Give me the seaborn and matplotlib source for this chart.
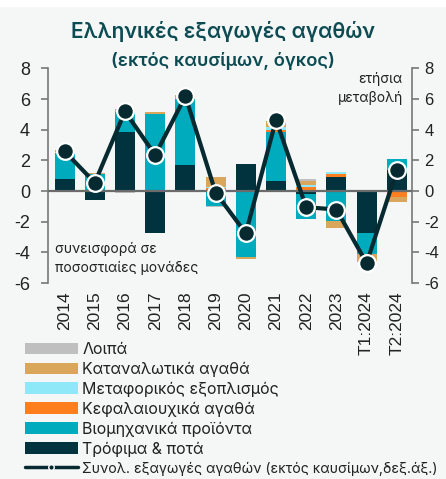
import numpy as np
import pandas as pd
import seaborn as sns
import matplotlib.pyplot as plt
from matplotlib.patches import Patch, Rectangle
from matplotlib.lines import Line2D

# data
periods = ['2014', '2015', '2016', '2017', '2018', '2019', '2020', '2021',
           '2022', '2023', 'T1:2024', 'T2:2024']
food = [0.80, -0.60, 3.83, -2.76, 1.72, 0.10, 1.78, 0.67, -0.20, 0.95, -2.74, 1.35]
industrial = [1.70, 1.10, 1.30, 5.00, 4.26, -0.98, -4.33, 3.20, -1.63, -1.93, -1.33, 0.72]
capital = [0.0, 0.0, 0.0, 0.0, 0.0, 0.08, 0.0, 0.13, 0.28, 0.18, 0.0, -0.40]
transport = [0.05, 0.0, 0.0, 0.0, -0.08, 0.10, 0.0, 0.20, 0.10, 0.12, 0.0, 0.0]
consumer = [0.12, 0.10, 0.20, 0.15, 0.30, 0.65, -0.10, 0.40, 0.25, -0.50, -0.58, -0.33]
others = [0.0, 0.0, -0.10, 0.0, 0.0, -0.05, 0.0, 0.0, 0.15, 0.0, 0.0, 0.0]
total = [2.6, 0.55, 5.2, 2.35, 6.2, -0.1, -2.75, 4.65, -1.05, -1.2, -4.7, 1.35]

series = [
    ('Τρόφιμα & ποτά', food, '#00333d'),
    ('Βιομηχανικά προϊόντα', industrial, '#00abbd'),
    ('Κεφαλαιουχικά αγαθά', capital, '#ff7f1f'),
    ('Μεταφορικός εξοπλισμός', transport, '#8ee8f7'),
    ('Καταναλωτικά αγαθά', consumer, '#d9a65b'),
    ('Λοιπά', others, '#bfbfbf'),
]
line_col = '#062a30'
bg = '#f5f7f7'
txt_font = ['Inter', 'DejaVu Sans']

sns.set_style('white')
plt.rcParams['font.family'] = ['Liberation Sans', 'DejaVu Sans']
plt.rcParams['axes.unicode_minus'] = False

fig = plt.figure(figsize=(4.46, 4.79), dpi=100, facecolor=bg)
fig.patches.append(Rectangle((0, 1 - 6 / 479), 1, 6 / 479, transform=fig.transFigure,
                             color='white', zorder=0))
ax = fig.add_axes([0.1076, 0.409, 0.816, 0.448])
ax.set_facecolor(bg)

pos_base = np.zeros(len(periods))
neg_base = np.zeros(len(periods))
for name, vals, col in series:
    v = np.array(vals)
    bottom = np.where(v >= 0, pos_base, neg_base)
    df = pd.DataFrame({'period': periods, 'value': v})
    sns.barplot(data=df, x='period', y='value', order=periods, color=col,
                width=0.66, bottom=bottom, saturation=1, edgecolor='none',
                linewidth=0, ax=ax, zorder=2)
    pos_base = pos_base + np.where(v >= 0, v, 0)
    neg_base = neg_base + np.where(v < 0, v, 0)

ax.axhline(0, color='#6b6b6b', lw=1.6, zorder=3)
ax.set_xlim(-0.55, 11.5)
ax.set_ylim(-6, 8)
ax.set_yticks(range(-6, 9, 2))
ax.set_xlabel('')
ax.set_ylabel('')
ax.tick_params(axis='x', rotation=90, labelsize=12.5, colors='#222222', length=0, pad=6)
ax.tick_params(axis='y', labelsize=13, colors='#222222', length=5, width=1.2,
               direction='out', color='#777777', pad=8)
for lab in ax.get_xticklabels():
    lab.set_verticalalignment('top')

ax2 = ax.twinx()
sns.lineplot(x=np.arange(len(periods)), y=total, ax=ax2, color=line_col, lw=3,
             marker='o', markersize=12, markerfacecolor=line_col,
             markeredgecolor='white', markeredgewidth=1.6, zorder=5)
ax2.set_ylim(-6, 8)
ax2.set_yticks(range(-6, 9, 2))
ax2.set_xlim(-0.55, 11.5)
ax2.tick_params(axis='y', labelsize=12, colors='#222222', length=5, width=1.2,
                direction='out', color='#777777', pad=4)

for a in (ax, ax2):
    for s in ['top', 'bottom']:
        a.spines[s].set_visible(False)
    for s in ['left', 'right']:
        a.spines[s].set_color('#777777')
        a.spines[s].set_linewidth(1.2)
ax2.spines['left'].set_visible(False)
ax.spines['right'].set_visible(False)

ax.text(0.02, 0.115, 'συνεισφορά σε\nποσοστιαίες μονάδες', transform=ax.transAxes,
        fontsize=10, family=txt_font, color='#222222',
        va='center', ha='left', linespacing=1.45)
ax.text(0.975, 0.905, 'ετήσια\nμεταβολή', transform=ax.transAxes,
        fontsize=10, family=txt_font, color='#222222',
        va='center', ha='right', linespacing=1.45)

fig.text(0.5, 1 - 32 / 479, 'Ελληνικές εξαγωγές αγαθών', ha='center', va='center',
         fontsize=15, fontweight='semibold', color='#0d4b52', family=txt_font)
fig.text(0.5, 1 - 61 / 479, '(εκτός καυσίμων, όγκος)', ha='center', va='center',
         fontsize=13.3, fontweight='semibold', color='#0d4b52', family=txt_font)

handles = [Patch(facecolor=col, edgecolor='none', label=name)
           for name, vals, col in reversed(series)]
handles.append(Line2D([0], [0], color=line_col, lw=2.5, marker='o', markersize=4,
                      markerfacecolor=line_col, markeredgecolor='white',
                      label='Συνολ. εξαγωγές αγαθών (εκτός καυσίμων,δεξ.άξ.)'))
leg = fig.legend(handles=handles, loc='upper left', bbox_to_anchor=(25 / 446, 1 - 342 / 479),
                 frameon=False, ncol=1, borderpad=0, borderaxespad=0,
                 handlelength=3.3, handleheight=0.75, handletextpad=0.3, labelspacing=0.3,
                 prop={'family': txt_font, 'size': 11.5},
                 labelcolor='#222222')
leg.get_texts()[-1].set_fontsize(10.2)

fig.savefig('out.png', dpi=100, facecolor=bg)
